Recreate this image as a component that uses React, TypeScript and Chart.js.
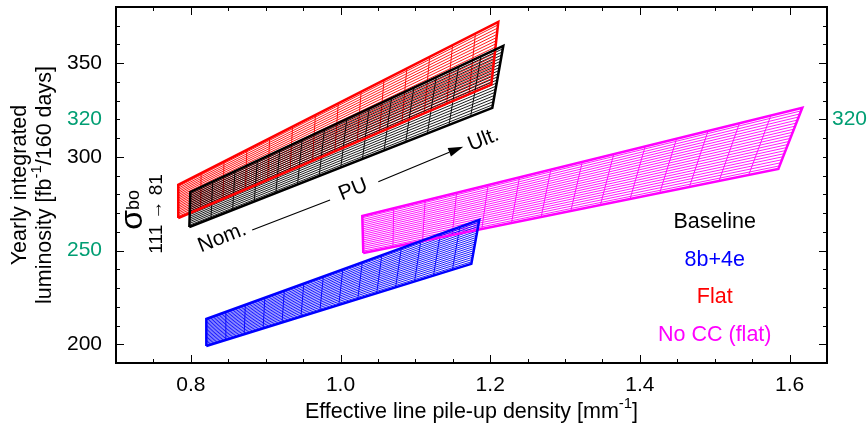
import { useEffect, useRef } from 'react';
import { Chart, registerables } from 'chart.js';
Chart.register(...registerables);

// ---- data ----
const scenarios = ['Baseline', '8b+4e', 'Flat', 'No CC (flat)'];
const colors = ['#000000', '#0000ff', '#ff0000', '#ff00ff'];
// corners of each (PU, sigma_bo) grid: Nom./Ult. pile-up x sigma_bo 111 (low) / 81 (high)
const nomLowX = [0.798, 0.8207, 0.7832, 1.0304];
const nomLowY = [262.6, 199.1, 267.4, 248.75];
const nomHighX = [0.7993, 0.8207, 0.7832, 1.0291];
const nomHighY = [281.3, 213.5, 285.1, 268.5];
const ultLowX = [1.2028, 1.1748, 1.2015, 1.585];
const ultLowY = [326.2, 242.9, 338.5, 293.6];
const ultHighX = [1.2175, 1.1854, 1.2108, 1.617];
const ultHighY = [359.3, 266.4, 372.1, 326.2];
const puSteps = 15;
const sigmaSteps = 21;
const xTicks = [0.8, 1.0, 1.2, 1.4, 1.6];
const yTicks = [200, 250, 300, 320, 350];
const yGreenTicks = [250, 320];
const rightTicks = [320];
const legendX = [1.5, 1.5, 1.5, 1.5];
const legendY = [265, 245, 225, 205];
const drawOrder = [1, 0, 2, 3];

const FONT = "'Liberation Sans', Arial, Helvetica, sans-serif";
const GREEN = '#009e73';

function gridPoint(k: number, i: number, j: number) {
  const u = i / (puSteps - 1);
  const v = j / (sigmaSteps - 1);
  const x = (1 - u) * (1 - v) * nomLowX[k] + (1 - u) * v * nomHighX[k] + u * (1 - v) * ultLowX[k] + u * v * ultHighX[k];
  const y = (1 - u) * (1 - v) * nomLowY[k] + (1 - u) * v * nomHighY[k] + u * (1 - v) * ultLowY[k] + u * v * ultHighY[k];
  return { x, y };
}

function meshData(k: number) {
  const pts: any[] = [];
  for (let j = 0; j < sigmaSteps; j++) {
    const a = gridPoint(k, 0, j);
    const b = gridPoint(k, puSteps - 1, j);
    pts.push(a, b, { x: b.x, y: null });
  }
  for (let i = 0; i < puSteps; i++) {
    const a = gridPoint(k, i, 0);
    const b = gridPoint(k, i, sigmaSteps - 1);
    pts.push(a, b, { x: b.x, y: null });
  }
  return pts;
}

function outlineData(k: number) {
  return [
    { x: nomLowX[k], y: nomLowY[k] },
    { x: ultLowX[k], y: ultLowY[k] },
    { x: ultHighX[k], y: ultHighY[k] },
    { x: nomHighX[k], y: nomHighY[k] },
    { x: nomLowX[k], y: nomLowY[k] },
  ];
}

function drawSupText(ctx: CanvasRenderingContext2D, parts: [string, boolean][], cx: number, cy: number, size: number) {
  const big = `${size}px ${FONT}`;
  const small = `${Math.round(size * 0.7)}px ${FONT}`;
  let total = 0;
  const widths = parts.map(([t, sup]) => {
    ctx.font = sup ? small : big;
    const w = ctx.measureText(t).width;
    total += w;
    return w;
  });
  let x = cx - total / 2;
  ctx.textAlign = 'left';
  ctx.textBaseline = 'middle';
  parts.forEach(([t, sup], idx) => {
    ctx.font = sup ? small : big;
    ctx.fillText(t, x, sup ? cy - size * 0.4 : cy);
    x += widths[idx];
  });
}

const decorPlugin = {
  id: 'decor',
  afterDraw(chart: any) {
    const { ctx, chartArea: ca } = chart;
    const xs = chart.scales.x;
    const ys = chart.scales.y;
    ctx.save();
    // frame
    ctx.strokeStyle = '#000';
    ctx.lineWidth = 2;
    ctx.strokeRect(ca.left, ca.top, ca.right - ca.left, ca.bottom - ca.top);
    // x ticks
    ctx.lineWidth = 1;
    for (let k = 14; k <= 33; k++) {
      const v = k * 0.05;
      if (v < 0.7 - 1e-9 || v > 1.65 + 1e-9) continue;
      const px = Math.round(xs.getPixelForValue(v)) + 0.5;
      const major = xTicks.some((t) => Math.abs(t - v) < 1e-6);
      const len = major ? 8 : 4;
      ctx.beginPath();
      ctx.moveTo(px, ca.bottom);
      ctx.lineTo(px, ca.bottom - len);
      ctx.moveTo(px, ca.top);
      ctx.lineTo(px, ca.top + len);
      ctx.stroke();
    }
    // y ticks
    for (let v = 190; v <= 380; v += 10) {
      const py = Math.round(ys.getPixelForValue(v)) + 0.5;
      const majorL = [200, 250, 300, 350].includes(v);
      const majorR = [200, 250, 320, 350].includes(v);
      ctx.beginPath();
      ctx.moveTo(ca.left, py);
      ctx.lineTo(ca.left + (majorL ? 8 : 4), py);
      ctx.moveTo(ca.right, py);
      ctx.lineTo(ca.right - (majorR ? 8 : 4), py);
      ctx.stroke();
    }
    // right axis label
    ctx.fillStyle = GREEN;
    ctx.font = `21px ${FONT}`;
    ctx.textAlign = 'left';
    ctx.textBaseline = 'middle';
    rightTicks.forEach((v) => ctx.fillText(String(v), ca.right + 5, ys.getPixelForValue(v)));

    // axis titles
    ctx.fillStyle = '#000';
    drawSupText(ctx, [['Effective line pile-up density [mm', false], ['-1', true], [']', false]], (ca.left + ca.right) / 2, 412, 21.5);
    ctx.save();
    ctx.translate(20, (ca.top + ca.bottom) / 2);
    ctx.rotate(-Math.PI / 2);
    drawSupText(ctx, [['Yearly integrated', false]], 0, 0, 21.5);
    ctx.restore();
    ctx.save();
    ctx.translate(45, (ca.top + ca.bottom) / 2);
    ctx.rotate(-Math.PI / 2);
    drawSupText(ctx, [['luminosity [fb', false], ['-1', true], ['/160 days]', false]], 0, 0, 21.5);
    ctx.restore();

    // legend labels
    ctx.font = `21.5px ${FONT}`;
    ctx.textAlign = 'center';
    ctx.textBaseline = 'middle';
    scenarios.forEach((s, k) => {
      ctx.fillStyle = colors[k];
      ctx.fillText(s, xs.getPixelForValue(legendX[k]), ys.getPixelForValue(legendY[k]));
    });

    // PU arrow annotation
    const p = (x: number, y: number) => ({ x: xs.getPixelForValue(x), y: ys.getPixelForValue(y) });
    const l1a = p(0.882, 261.0), l1b = p(0.986, 277.0);
    const l2a = p(1.0505, 286.7), tip = p(1.164, 305.4);
    const ang = Math.atan2(tip.y - l1a.y, tip.x - l1a.x);
    ctx.strokeStyle = '#000';
    ctx.lineWidth = 1.2;
    ctx.beginPath();
    ctx.moveTo(l1a.x, l1a.y); ctx.lineTo(l1b.x, l1b.y);
    ctx.moveTo(l2a.x, l2a.y);
    const hl = 15, hw = 4.5;
    const bx = tip.x - hl * Math.cos(ang), by = tip.y - hl * Math.sin(ang);
    ctx.lineTo(bx, by);
    ctx.stroke();
    ctx.fillStyle = '#000';
    ctx.beginPath();
    ctx.moveTo(tip.x, tip.y);
    ctx.lineTo(bx + hw * Math.sin(ang), by - hw * Math.cos(ang));
    ctx.lineTo(bx - hw * Math.sin(ang), by + hw * Math.cos(ang));
    ctx.closePath();
    ctx.fill();
    const rotText = (t: string, x: number, y: number) => {
      const q = p(x, y);
      ctx.save();
      ctx.translate(q.x, q.y);
      ctx.rotate(ang);
      ctx.font = `21px ${FONT}`;
      ctx.textAlign = 'center';
      ctx.textBaseline = 'middle';
      ctx.fillText(t, 0, 0);
      ctx.restore();
    };
    rotText('Nom.', 0.842, 256.8);
    rotText('PU', 1.017, 282.4);
    rotText('Ult.', 1.191, 309.1);

    // sigma_bo label
    const sq = p(0.723, 271.7);
    ctx.save();
    ctx.translate(sq.x, sq.y);
    ctx.rotate(-Math.PI / 2);
    ctx.textBaseline = 'alphabetic';
    ctx.textAlign = 'left';
    ctx.font = `32px ${FONT}`;
    const sw = ctx.measureText('σ').width;
    ctx.font = `18px ${FONT}`;
    const bw = ctx.measureText('bo').width;
    const start = -(sw + bw) / 2;
    ctx.font = `32px ${FONT}`;
    ctx.fillText('σ', start, 9);
    ctx.font = `18px ${FONT}`;
    ctx.fillText('bo', start + sw, 6);
    ctx.restore();
    const rq = p(0.755, 269.6);
    ctx.save();
    ctx.translate(rq.x, rq.y);
    ctx.rotate(-Math.PI / 2);
    ctx.font = `19px ${FONT}`;
    ctx.textAlign = 'center';
    ctx.textBaseline = 'middle';
    ctx.fillText('111 → 81', 0, 0);
    ctx.restore();
    ctx.restore();
  },
};

export default function App() {
  const ref = useRef<HTMLCanvasElement>(null);
  useEffect(() => {
    document.body.style.margin = '0';
    const datasets: any[] = [];
    drawOrder.forEach((k) => {
      datasets.push({
        label: scenarios[k] + ' outline',
        data: outlineData(k),
        showLine: true,
        borderColor: colors[k],
        borderWidth: 2.5,
        pointRadius: 0,
        spanGaps: false,
        fill: false,
      });
    });
    drawOrder.forEach((k) => {
      datasets.push({
        label: scenarios[k],
        data: meshData(k),
        showLine: true,
        borderColor: colors[k],
        borderWidth: 0.9,
        pointRadius: 0,
        spanGaps: false,
        fill: false,
      });
    });
    const chart = new Chart(ref.current!, {
      type: 'scatter',
      data: { datasets },
      plugins: [decorPlugin],
      options: {
        animation: false,
        responsive: false,
        events: [],
        layout: { padding: { left: 0, right: 41, top: 7, bottom: 0 } },
        plugins: { legend: { display: false }, tooltip: { enabled: false } },
        scales: {
          x: {
            type: 'linear',
            min: 0.7,
            max: 1.65,
            grid: { display: false, drawTicks: false },
            border: { display: false },
            afterBuildTicks: (s: any) => { s.ticks = xTicks.map((v) => ({ value: v })); },
            afterFit: (s: any) => { s.height = 68; s.paddingLeft = 0; s.paddingRight = 0; },
            ticks: {
              font: { family: FONT, size: 21 },
              color: '#000',
              padding: 10,
              maxRotation: 0,
              autoSkip: false,
              callback: (v: any) => Number(v).toFixed(1),
            },
          },
          y: {
            type: 'linear',
            min: 190,
            max: 380,
            grid: { display: false, drawTicks: false },
            border: { display: false },
            afterBuildTicks: (s: any) => { s.ticks = yTicks.map((v) => ({ value: v })); },
            afterFit: (s: any) => { s.width = 116; s.paddingTop = 0; s.paddingBottom = 0; },
            ticks: {
              font: { family: FONT, size: 21 },
              color: (c: any) => (yGreenTicks.includes(c.tick.value) ? GREEN : '#000'),
              padding: 14,
              autoSkip: false,
              callback: (v: any) => String(v),
            },
          },
        },
      },
    });
    return () => chart.destroy();
  }, []);
  return (
    <div style={{ position: 'absolute', left: 0, top: 0, width: 868, height: 431, background: '#fff' }}>
      <canvas ref={ref} width={868} height={431} />
    </div>
  );
}
